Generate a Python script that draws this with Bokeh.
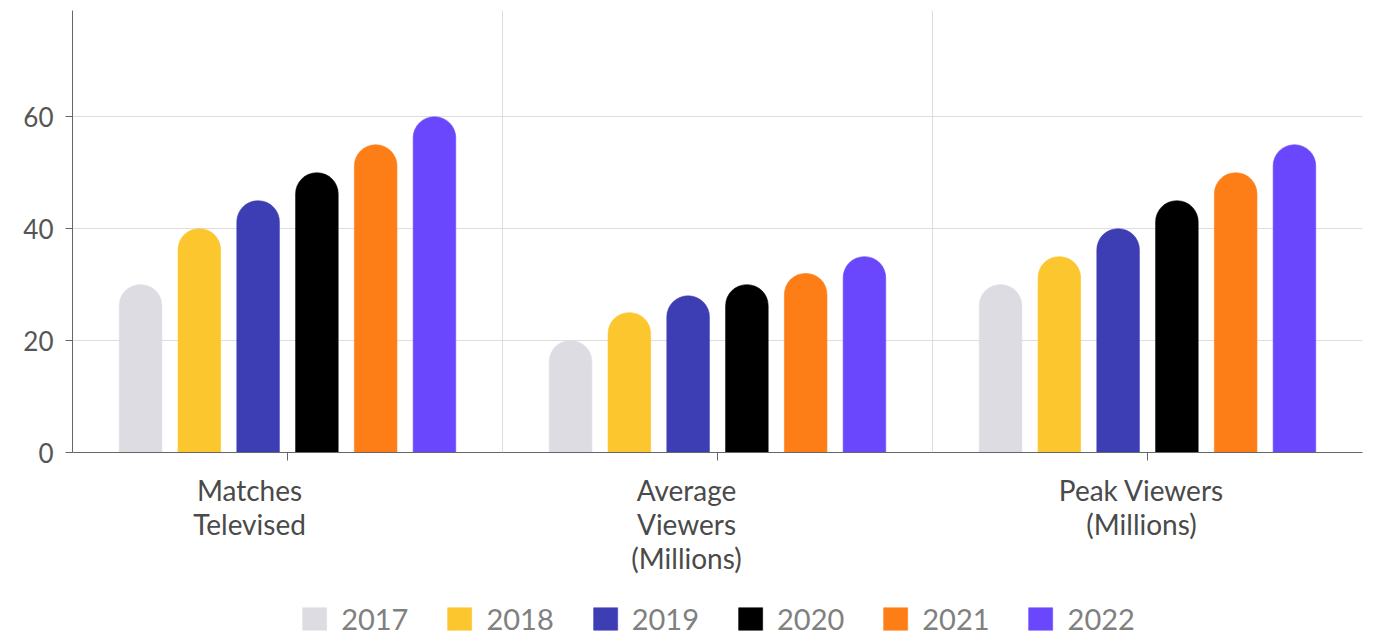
from bokeh.plotting import figure
from bokeh.layouts import column
from bokeh.models import (Range1d, FixedTicker, Span, Legend, LegendItem, ColumnDataSource)
from bokeh.transform import dodge
from bokeh.embed import file_html
from bokeh.resources import INLINE

categories = ["Matches Televised", "Average Viewers (Millions)", "Peak Viewers (Millions)"]
category_labels = ["Matches\nTelevised", "Average\nViewers\n(Millions)", "Peak Viewers\n(Millions)"]
years = ["2017", "2018", "2019", "2020", "2021", "2022"]
v2017 = [30, 20, 30]
v2018 = [40, 25, 35]
v2019 = [45, 28, 40]
v2020 = [50, 30, 45]
v2021 = [55, 32, 50]
v2022 = [60, 35, 55]
y_ticks = [0, 20, 40, 60]

colors = ["#dcdce2", "#fcc62e", "#3d3db4", "#000000", "#fd7e17", "#6a47fc"]
series = [v2017, v2018, v2019, v2020, v2021, v2022]

FONT = "Lato"
n = len(categories)
centres = [i + 0.5 for i in range(n)]

data = dict(cat=categories, xc=centres)
for y, vals in zip(years, series):
    data["y" + y] = vals
src = ColumnDataSource(data)

p = figure(x_range=Range1d(0, n), y_range=Range1d(0, 79),
           width=1363, height=600, output_backend="svg", toolbar_location=None,
           min_border_left=72, min_border_right=1, min_border_top=10, min_border_bottom=148)
p.outline_line_color = None

step = 0.1367
bar_w = 0.099
for i, (y, c) in enumerate(zip(years, colors)):
    off = (i - (len(years) - 1) / 2) * step
    p.vbar(x=dodge("xc", off), top="y" + y, width=bar_w,
           source=src, fill_color=c, line_color=c, line_alpha=0.6,
           border_radius=(21, 21, 0, 0))

# category dividers
for k in range(1, n):
    p.add_layout(Span(location=k, dimension="height", line_color="#dddddd", line_width=1))

p.xgrid.grid_line_color = None
p.ygrid.ticker = FixedTicker(ticks=y_ticks)
p.ygrid.grid_line_color = "#dddddd"

p.yaxis.ticker = FixedTicker(ticks=y_ticks)
p.yaxis.axis_line_color = "#666666"
p.yaxis.major_tick_line_color = "#666666"
p.yaxis.major_tick_out = 7
p.yaxis.major_tick_in = 0
p.yaxis.minor_tick_line_color = None
p.yaxis.major_label_text_font = FONT
p.yaxis.major_label_text_font_size = "26px"
p.yaxis.major_label_text_color = "#555555"
p.yaxis.major_label_standoff = 12

# x axis: tick marks at category centres (minor), label blocks shifted left (major)
px_per_unit = 430.0
label_shift_px = [38, 31, 6]
lab_ticks = [c - s / px_per_unit for c, s in zip(centres, label_shift_px)]
xax = p.xaxis[0]
xax.ticker = FixedTicker(ticks=lab_ticks, minor_ticks=centres)
xax.major_label_overrides = {t: l for t, l in zip(lab_ticks, category_labels)}
xax.axis_line_color = "#666666"
xax.major_tick_line_color = None
xax.major_tick_out = 8
xax.major_tick_in = 0
xax.minor_tick_line_color = "#666666"
xax.minor_tick_out = 8
xax.minor_tick_in = 0
xax.major_label_standoff = 12
xax.major_label_text_font = FONT
xax.major_label_text_font_size = "28px"
xax.major_label_text_color = "#4a4a4a"
xax.major_label_text_line_height = 1.0

# legend strip below the chart (its bars lie below its view; only the legend shows)
p2 = figure(x_range=Range1d(0, n), y_range=Range1d(100, 101), width=1363, height=36,
            output_backend="svg", toolbar_location=None,
            x_axis_location=None, y_axis_location=None,
            min_border_left=72, min_border_right=1, min_border_top=0, min_border_bottom=0)
p2.outline_line_color = None
p2.grid.visible = False
items = []
for i, (y, c) in enumerate(zip(years, colors)):
    off = (i - (len(years) - 1) / 2) * step
    r = p2.vbar(x=dodge("xc", off), top="y" + y, width=bar_w, source=src,
                fill_color=c, line_color=c, line_alpha=0.6, border_radius=4)
    items.append(LegendItem(label=y, renderers=[r]))

legend = Legend(items=items, orientation="horizontal", location="center",
                glyph_width=30, glyph_height=28, label_standoff=12, spacing=36,
                label_text_font=FONT, label_text_font_size="29px", label_text_color="#808080",
                border_line_color=None, background_fill_alpha=0, margin=0, padding=0)
p2.add_layout(legend, "center")

layout = column(p, p2, spacing=0)
open("out.html", "w").write(file_html(layout, INLINE))
